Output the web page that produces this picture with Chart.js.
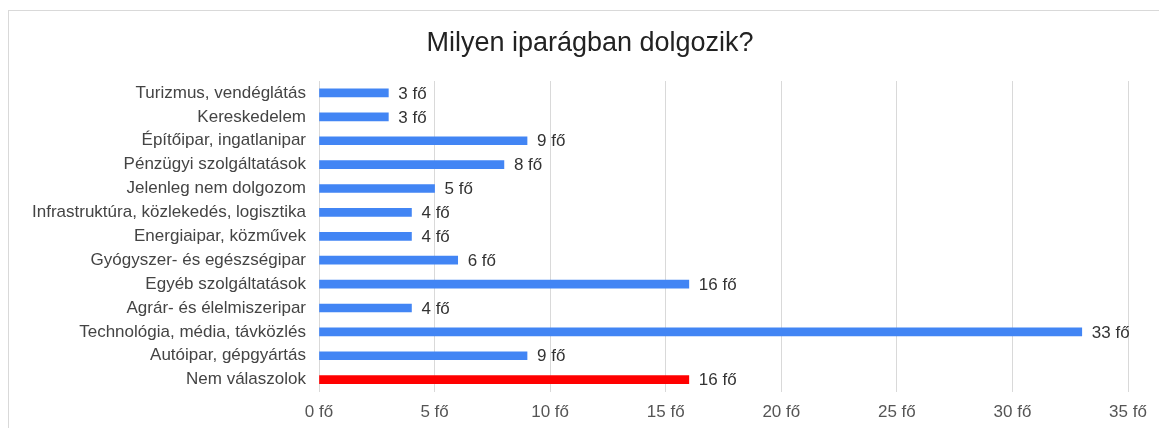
<!DOCTYPE html>
<html>
<head>
<meta charset="utf-8">
<script src="https://cdn.jsdelivr.net/npm/chart.js@4"></script>
<style>
  html, body { margin: 0; padding: 0; background: #fff; }
  #wrap { position: relative; width: 1159px; height: 428px; overflow: hidden; }
  #frame { position: absolute; left: 8px; top: 10px; width: 1200px; height: 500px;
           border-left: 1px solid #d9d9d9; border-top: 1px solid #d9d9d9; }
  #title { position: absolute; left: 390px; width: 400px; top: 26px; text-align: center;
           font: 27px "Liberation Sans", Arial, sans-serif; color: #222; line-height: 32px; }
  canvas { position: absolute; left: 0; top: 0; }
</style>
</head>
<body>
<div id="wrap">
  <div id="frame"></div>
  <canvas id="chart" width="1159" height="438"></canvas>
  <div id="title">Milyen iparágban dolgozik?</div>
</div>
<script>
const categories = [
  'Turizmus, vendéglátás',
  'Kereskedelem',
  'Építőipar, ingatlanipar',
  'Pénzügyi szolgáltatások',
  'Jelenleg nem dolgozom',
  'Infrastruktúra, közlekedés, logisztika',
  'Energiaipar, közművek',
  'Gyógyszer- és egészségipar',
  'Egyéb szolgáltatások',
  'Agrár- és élelmiszeripar',
  'Technológia, média, távközlés',
  'Autóipar, gépgyártás',
  'Nem válaszolok'
]
const values = [3, 3, 9, 8, 5, 4, 4, 6, 16, 4, 33, 9, 16]
const barColors = ['#4285f4', '#4285f4', '#4285f4', '#4285f4', '#4285f4', '#4285f4', '#4285f4',
  '#4285f4', '#4285f4', '#4285f4', '#4285f4', '#4285f4', '#ff0000']
const unit = ' fő'

const fontes = '"Liberation Sans", Arial, sans-serif'

// value labels right of each bar
const valueLabels = {
  id: 'valueLabels',
  afterDatasetsDraw(chart) {
    const ctx = chart.ctx
    const meta = chart.getDatasetMeta(0)
    ctx.save()
    ctx.font = '17px ' + fontes
    ctx.fillStyle = '#333333'
    ctx.textBaseline = 'middle'
    ctx.textAlign = 'left'
    meta.data.forEach((bar, i) => {
      ctx.fillText(values[i] + unit, bar.x + 10, bar.y + 1)
    })
    ctx.restore()
  }
}

new Chart(document.getElementById('chart').getContext('2d'), {
  type: 'bar',
  data: {
    labels: categories,
    datasets: [{
      data: values,
      backgroundColor: barColors,
      barThickness: 8,
      borderWidth: 0
    }]
  },
  options: {
    indexAxis: 'y',
    responsive: false,
    animation: false,
    layout: { padding: { left: 0, right: 31, top: 81, bottom: 4 } },
    scales: {
      x: {
        min: 0,
        max: 35,
        ticks: {
          stepSize: 5,
          color: '#555555',
          font: { family: fontes, size: 17 },
          padding: 11,
          callback: v => v + unit
        },
        grid: { color: '#d9d9d9', drawTicks: false },
        border: { display: false }
      },
      y: {
        afterFit(scale) { scale.width = 319 },
        ticks: {
          autoSkip: false,
          color: '#444444',
          font: { family: fontes, size: 17 },
          padding: 13
        },
        grid: { display: false, drawTicks: false },
        border: { color: '#d9d9d9' }
      }
    },
    plugins: {
      legend: { display: false },
      tooltip: { enabled: false },
      title: { display: false }
    }
  },
  plugins: [valueLabels]
})
</script>
</body>
</html>
